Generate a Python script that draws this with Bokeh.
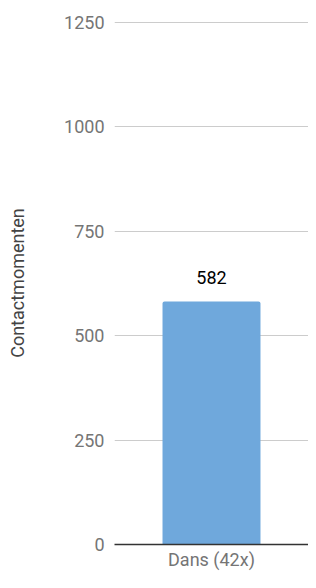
from bokeh.plotting import figure
from bokeh.models import ColumnDataSource, FixedTicker, FactorRange
from bokeh.embed import file_html
from bokeh.resources import INLINE
from bokeh.core.properties import value

categories = ["Dans (42x)"]
counts = [582]
value_labels = ["582"]
y_ticks = [0, 250, 500, 750, 1000, 1250]
y_label = "Contactmomenten"

FONT = "Roboto"

src = ColumnDataSource(data=dict(cat=categories, val=counts, lab=value_labels))

p = figure(
    x_range=FactorRange(*categories),
    y_range=(0, 1252),
    width=308, height=572,
    output_backend="svg", toolbar_location=None,
    min_border_left=114, min_border_right=0, min_border_top=21, min_border_bottom=24,
)
p.outline_line_color = None
p.background_fill_color = "white"
p.border_fill_color = "white"

p.vbar(x="cat", top="val", width=0.505, source=src, fill_color="#6fa8dc",
       line_color=None, border_radius=[2, 2, 0, 0])
p.text(x="cat", y="val", text="lab", source=src, text_align="center",
       text_baseline="alphabetic", y_offset=-24, text_color="#000000",
       text_font=value(FONT), text_font_size="18px")

# y axis
ya = p.yaxis[0]
ya.ticker = FixedTicker(ticks=y_ticks)
ya.axis_line_color = None
ya.major_tick_line_color = None
ya.minor_tick_line_color = None
ya.major_tick_out = 0
ya.major_tick_in = 0
ya.minor_tick_out = 0
ya.major_label_text_font = FONT
ya.major_label_text_font_size = "18px"
ya.major_label_text_color = "#757575"
ya.major_label_standoff = 10
ya.axis_label = y_label
ya.axis_label_text_font = FONT
ya.axis_label_text_font_size = "18px"
ya.axis_label_text_font_style = "normal"
ya.axis_label_text_color = "#444444"
ya.axis_label_standoff = 33

# x axis
xa = p.xaxis[0]
xa.axis_line_color = "#333333"
xa.axis_line_width = 1.5
xa.major_tick_line_color = None
xa.minor_tick_line_color = None
xa.major_tick_out = 0
xa.major_tick_in = 0
xa.minor_tick_out = 0
xa.major_label_text_font = FONT
xa.major_label_text_font_size = "18px"
xa.major_label_text_color = "#757575"
xa.major_label_standoff = 4

p.xgrid.grid_line_color = None
p.ygrid.grid_line_color = "#cccccc"
p.ygrid.grid_line_width = 1
p.ygrid.ticker = FixedTicker(ticks=y_ticks)

open("out.html", "w").write(file_html(p, INLINE))
